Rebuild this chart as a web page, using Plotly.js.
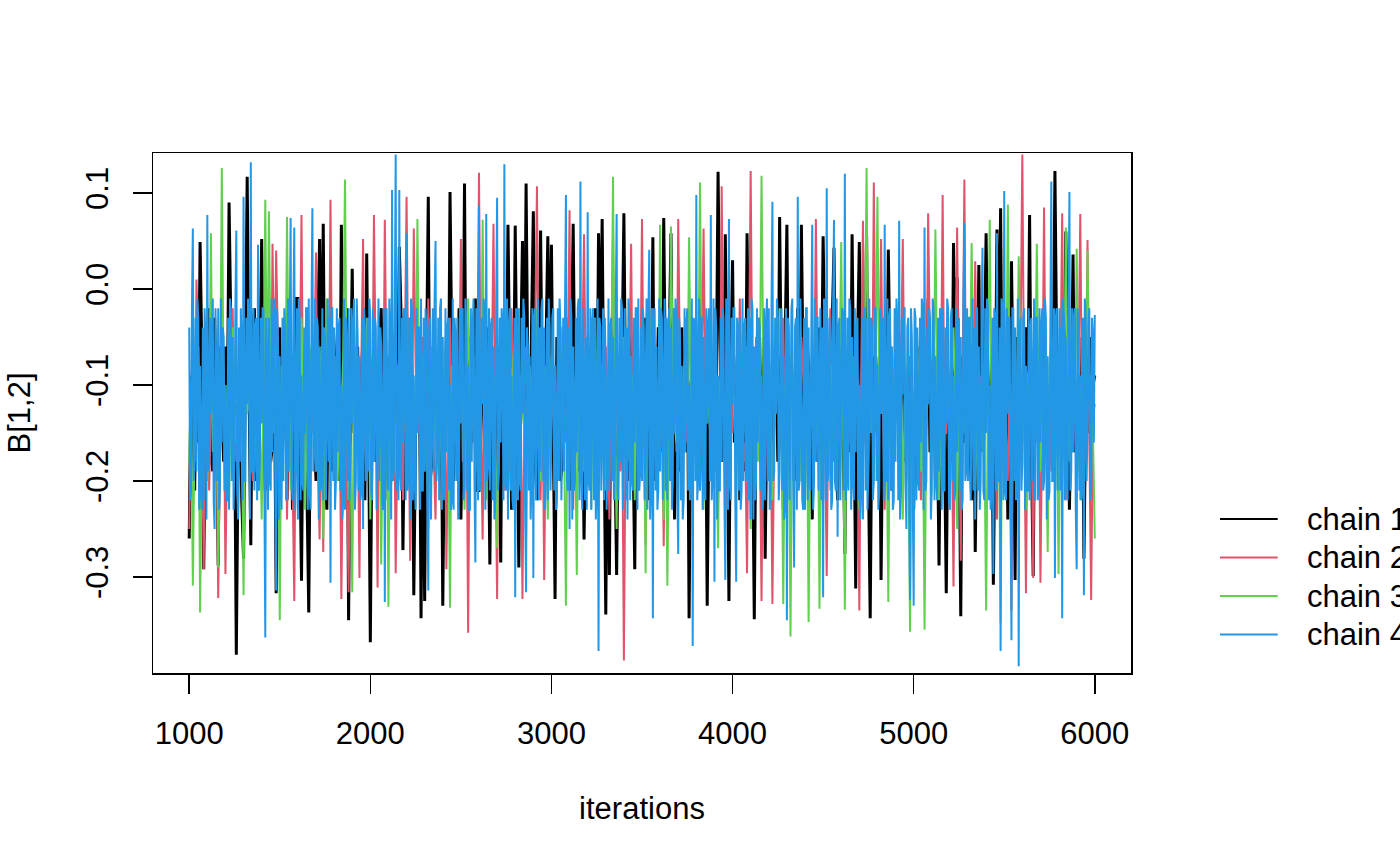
<!DOCTYPE html>
<html>
<head>
<meta charset="utf-8">
<script src="https://cdn.plot.ly/plotly-3.0.1.min.js"></script>
<style>html,body{margin:0;padding:0;background:#fff;}#chart{width:1400px;height:865px;}</style>
</head>
<body>
<div id="chart"></div>
<script>
// Trace of B[1,2], 4 chains, iterations 1000..6000 (thinned)
const START_ITER = 1000;
const THIN = [10, 10, 10, 5];
const chainNames = ["chain 1", "chain 2", "chain 3", "chain 4"];
const chainColors = ["#000000", "#DF536B", "#61D04F", "#2297E6"];
const xTickVals = [1000, 2000, 3000, 4000, 5000, 6000];
const xTickText = ["1000", "2000", "3000", "4000", "5000", "6000"];
const yTickVals = [-0.3, -0.2, -0.1, 0.0, 0.1];
const yTickText = ["-0.3", "-0.2", "-0.1", "0.0", "0.1"];

const chain1 = [
-0.26,-0.09,-0.14,-0.21,-0.05,-0.16,0.049,-0.07,-0.292,-0.13,-0.10,-0.02,-0.17,-0.19,-0.03,-0.11,-0.288,-0.06,-0.12,-0.18,
-0.06,-0.14,0.090,-0.04,-0.19,-0.12,-0.381,-0.17,-0.08,-0.22,-0.281,-0.08,0.117,-0.10,-0.267,-0.05,-0.02,-0.20,-0.15,-0.09,
0.052,-0.11,-0.21,-0.03,-0.09,-0.18,-0.16,-0.08,-0.317,-0.15,-0.04,-0.20,-0.13,-0.06,-0.22,-0.12,-0.07,-0.23,-0.18,-0.01,
-0.01,-0.16,-0.304,-0.07,-0.11,-0.21,-0.337,-0.10,-0.06,-0.14,-0.20,-0.04,0.052,-0.12,0.068,-0.17,-0.23,-0.05,-0.09,-0.19,
-0.16,-0.08,-0.04,-0.20,0.067,-0.13,-0.21,-0.02,-0.345,-0.11,0.021,-0.15,-0.12,-0.06,-0.19,-0.09,-0.05,-0.22,0.037,-0.14,
-0.368,-0.12,-0.08,-0.18,-0.15,-0.05,-0.02,-0.13,-0.22,-0.07,-0.11,-0.21,-0.17,-0.10,-0.06,-0.16,0.044,-0.03,-0.272,-0.11,
-0.10,-0.19,-0.03,-0.09,-0.319,-0.15,-0.13,-0.04,-0.343,-0.12,-0.325,-0.08,0.096,-0.20,-0.18,-0.11,-0.07,-0.17,-0.14,-0.06,
-0.330,-0.13,-0.05,-0.17,0.101,-0.07,-0.20,-0.10,-0.12,-0.02,-0.24,-0.14,0.110,-0.19,-0.09,-0.05,-0.16,-0.12,-0.01,-0.21,
-0.21,-0.08,-0.10,-0.16,-0.04,-0.12,-0.287,-0.06,-0.14,-0.19,-0.06,-0.11,-0.285,-0.03,-0.17,-0.13,0.067,-0.09,-0.23,-0.15,
0.066,-0.12,-0.29,-0.07,0.050,-0.14,0.110,-0.10,-0.19,-0.04,0.081,-0.18,-0.22,-0.09,0.061,-0.13,-0.15,-0.06,0.055,-0.11,
0.046,-0.15,-0.323,-0.05,-0.08,-0.20,-0.18,-0.11,-0.03,-0.16,-0.21,-0.07,0.068,-0.13,-0.12,-0.19,-0.06,-0.10,-0.261,-0.14,
-0.10,-0.06,-0.17,-0.12,-0.02,-0.19,0.058,-0.08,0.073,-0.15,-0.339,-0.10,-0.298,-0.04,-0.09,-0.17,-0.298,-0.11,-0.14,-0.07,
0.079,-0.13,-0.20,-0.09,-0.05,-0.16,-0.292,-0.05,-0.11,-0.18,-0.16,-0.12,-0.03,-0.08,-0.22,-0.14,0.054,-0.20,-0.13,-0.04,
-0.07,-0.17,0.074,-0.11,-0.19,-0.06,0.058,-0.14,-0.24,-0.09,-0.10,-0.19,-0.04,-0.13,-0.17,-0.03,-0.343,-0.10,-0.08,-0.16,
-0.15,-0.09,-0.01,-0.14,-0.21,-0.07,-0.330,-0.12,-0.12,-0.18,-0.06,-0.10,0.122,-0.05,-0.18,-0.15,0.057,-0.11,-0.325,-0.08,
0.030,-0.16,-0.14,-0.06,-0.22,-0.12,-0.07,-0.19,0.058,-0.08,-0.11,-0.15,-0.344,-0.10,-0.03,-0.13,-0.19,-0.05,-0.281,-0.12,
-0.09,-0.14,-0.16,-0.08,-0.05,-0.18,0.075,-0.11,-0.23,-0.06,0.067,-0.16,-0.13,-0.09,-0.20,-0.12,-0.02,-0.17,0.067,-0.10,
-0.17,-0.05,-0.08,-0.15,-0.24,-0.10,-0.11,-0.18,-0.04,-0.13,0.055,-0.07,-0.19,-0.11,-0.14,-0.04,0.043,-0.16,-0.22,-0.09,
-0.06,-0.13,-0.276,-0.08,-0.10,-0.17,0.057,-0.12,-0.312,-0.06,0.049,-0.14,-0.16,-0.10,0.056,-0.19,-0.343,-0.11,-0.07,-0.15,
-0.13,-0.07,-0.303,-0.12,-0.04,-0.16,0.041,-0.09,-0.21,-0.14,-0.11,-0.05,-0.18,-0.11,-0.03,-0.18,-0.15,-0.08,-0.09,-0.13,
-0.23,-0.10,-0.06,-0.15,-0.14,-0.08,-0.19,-0.12,-0.01,-0.17,-0.12,-0.06,-0.20,-0.13,-0.288,-0.09,-0.05,-0.16,-0.317,-0.11,
-0.10,-0.18,0.048,-0.09,0.012,-0.13,-0.341,-0.07,-0.16,-0.11,-0.07,-0.15,-0.22,-0.06,-0.274,-0.12,0.025,-0.17,-0.13,-0.08,
0.058,-0.12,-0.19,-0.06,-0.308,-0.14,0.062,-0.10,0.084,-0.16,-0.11,-0.08,-0.24,-0.13,0.029,-0.11,-0.303,-0.05,-0.08,-0.15,
-0.15,-0.09,-0.04,-0.13,0.077,-0.17,-0.299,-0.08,-0.12,-0.14,-0.18,-0.06,-0.02,-0.12,-0.21,-0.16,-0.09,-0.10,0.123,-0.07,
-0.16,-0.11,-0.06,-0.14,0.060,-0.08,-0.23,-0.12,0.036,-0.17,-0.13,-0.09,-0.19,-0.05,-0.281,-0.13,-0.07,-0.15,-0.05,-0.10,
-0.09];

const chain2 = [
-0.25,-0.12,-0.08,-0.18,0.01,-0.07,-0.17,-0.14,-0.292,-0.10,-0.06,-0.21,-0.13,-0.05,-0.20,-0.11,-0.322,-0.16,-0.04,-0.09,
-0.297,-0.15,-0.11,-0.06,-0.02,-0.13,-0.18,-0.10,-0.09,-0.17,-0.23,-0.08,-0.05,-0.12,-0.14,-0.20,-0.19,-0.04,-0.07,-0.14,
-0.12,-0.08,-0.21,-0.13,-0.03,-0.18,0.047,-0.11,0.040,-0.06,-0.16,-0.15,-0.10,-0.09,-0.24,-0.12,-0.06,-0.19,-0.325,-0.07,
-0.13,-0.10,0.077,-0.16,-0.19,-0.05,-0.08,-0.13,-0.15,-0.09,0.038,-0.17,-0.261,-0.11,-0.274,-0.06,-0.02,-0.14,0.093,-0.12,
-0.11,-0.07,-0.18,-0.12,-0.323,-0.15,-0.05,-0.19,-0.316,-0.10,-0.09,-0.04,-0.14,-0.13,-0.301,-0.08,0.052,-0.16,-0.20,-0.11,
-0.07,-0.14,0.077,-0.09,-0.311,-0.06,-0.12,-0.18,0.072,-0.11,-0.17,-0.13,-0.04,-0.07,-0.296,-0.15,-0.10,-0.12,-0.22,-0.08,
0.096,-0.11,-0.283,-0.16,0.063,-0.08,-0.15,-0.12,-0.08,-0.05,-0.19,-0.14,-0.01,-0.10,-0.13,-0.17,-0.24,-0.09,-0.06,-0.13,
-0.16,-0.09,-0.292,-0.13,-0.03,-0.15,-0.11,-0.06,-0.20,-0.12,0.052,-0.18,-0.14,-0.08,-0.358,-0.11,-0.07,-0.14,-0.18,-0.10,
0.121,-0.13,-0.261,-0.07,-0.09,-0.17,-0.15,-0.10,0.068,-0.15,-0.323,-0.08,-0.05,-0.12,-0.21,-0.06,-0.12,-0.16,-0.02,-0.11,
-0.17,-0.08,-0.10,-0.14,-0.323,-0.11,-0.06,-0.16,-0.19,-0.09,-0.13,-0.05,0.107,-0.13,-0.22,-0.10,-0.303,-0.12,-0.04,-0.17,
-0.14,-0.10,-0.08,-0.15,-0.20,-0.06,-0.11,-0.12,-0.16,-0.09,0.082,-0.18,-0.23,-0.11,-0.07,-0.14,-0.13,-0.07,0.057,-0.12,
-0.18,-0.11,-0.03,-0.14,-0.21,-0.08,-0.09,-0.16,-0.15,-0.10,-0.06,-0.13,-0.24,-0.07,0.060,-0.15,-0.12,-0.09,-0.19,-0.12,
-0.387,-0.13,-0.05,-0.09,0.047,-0.16,-0.17,-0.08,-0.10,-0.12,0.073,-0.14,-0.267,-0.06,-0.14,-0.11,-0.02,-0.15,-0.20,-0.10,
-0.08,-0.12,-0.268,-0.07,-0.13,-0.15,-0.18,-0.10,-0.06,-0.17,0.073,-0.09,-0.22,-0.13,-0.11,-0.16,-0.04,-0.08,-0.16,-0.11,
-0.09,-0.15,-0.21,-0.10,0.063,-0.12,-0.14,-0.06,-0.07,-0.14,-0.19,-0.09,-0.12,-0.17,0.107,-0.11,-0.23,-0.08,-0.05,-0.13,
-0.15,-0.07,-0.10,-0.13,-0.01,-0.11,-0.18,-0.16,-0.296,-0.09,0.123,-0.12,-0.13,-0.05,-0.08,-0.14,-0.325,-0.10,-0.20,-0.08,
-0.06,-0.12,-0.328,-0.15,-0.11,-0.08,-0.17,-0.11,-0.03,-0.16,-0.22,-0.07,-0.14,-0.13,-0.09,-0.10,-0.19,-0.14,-0.05,-0.09,
-0.12,-0.16,-0.24,-0.09,-0.07,-0.13,0.073,-0.11,-0.16,-0.06,-0.10,-0.15,-0.299,-0.10,-0.02,-0.12,-0.18,-0.08,-0.13,-0.14,
-0.08,-0.13,-0.21,-0.10,-0.04,-0.16,-0.15,-0.07,-0.11,-0.12,-0.335,-0.09,0.071,-0.14,-0.19,-0.11,-0.06,-0.15,0.111,-0.10,
-0.14,-0.10,0.052,-0.12,-0.23,-0.07,-0.09,-0.15,-0.17,-0.11,-0.03,-0.14,-0.12,-0.08,0.052,-0.13,-0.20,-0.09,-0.07,-0.16,
-0.16,-0.09,-0.10,-0.14,-0.22,-0.11,-0.05,-0.13,0.079,-0.07,-0.13,-0.16,-0.18,-0.10,-0.08,-0.12,0.098,-0.15,-0.15,-0.08,
-0.11,-0.14,-0.310,-0.08,0.064,-0.12,-0.283,-0.10,0.114,-0.15,-0.19,-0.07,-0.06,-0.13,0.029,-0.11,-0.21,-0.09,-0.12,-0.16,
-0.04,-0.11,-0.17,-0.13,-0.09,-0.16,-0.24,-0.08,-0.14,-0.10,-0.02,-0.15,-0.20,-0.09,-0.335,-0.12,-0.07,-0.14,-0.13,-0.06,
0.140,-0.12,-0.317,-0.09,-0.10,-0.14,-0.301,-0.11,-0.16,-0.07,-0.306,-0.13,0.085,-0.15,-0.11,-0.10,-0.19,-0.08,-0.05,-0.12,
-0.14,-0.10,0.079,-0.13,-0.22,-0.07,-0.08,-0.15,-0.17,-0.11,-0.12,-0.09,0.078,-0.14,-0.21,-0.12,0.051,-0.16,-0.324,-0.13,
-0.12];

const chain3 = [
-0.18,-0.10,-0.309,-0.14,-0.07,-0.06,-0.337,-0.16,-0.12,-0.09,-0.20,-0.12,0.058,-0.17,-0.15,-0.08,-0.29,-0.13,0.126,-0.11,
-0.10,-0.15,-0.22,-0.08,-0.04,-0.12,-0.16,-0.10,-0.09,-0.14,-0.319,-0.07,-0.13,-0.11,-0.02,-0.16,-0.19,-0.09,-0.07,-0.13,
-0.24,-0.11,0.093,-0.13,0.081,-0.09,-0.14,-0.15,-0.06,-0.12,-0.345,-0.08,-0.11,-0.14,0.075,-0.10,-0.21,-0.07,-0.08,-0.16,
-0.17,-0.09,-0.03,-0.12,-0.23,-0.14,-0.12,-0.08,-0.05,-0.11,-0.19,-0.13,-0.10,-0.06,-0.26,-0.15,-0.01,-0.10,-0.15,-0.12,
-0.08,-0.14,-0.20,-0.10,-0.13,-0.07,0.114,-0.12,-0.22,-0.16,-0.316,-0.09,-0.06,-0.13,-0.17,-0.11,-0.11,-0.15,-0.03,-0.08,
-0.24,-0.12,-0.09,-0.15,-0.14,-0.10,-0.287,-0.13,-0.05,-0.08,-0.331,-0.11,-0.12,-0.14,-0.19,-0.09,-0.07,-0.12,-0.16,-0.10,
-0.02,-0.13,-0.21,-0.09,-0.10,-0.15,0.073,-0.11,-0.18,-0.07,-0.13,-0.14,-0.25,-0.10,-0.06,-0.12,-0.15,-0.08,-0.09,-0.16,
-0.20,-0.10,-0.04,-0.13,-0.332,-0.08,-0.11,-0.15,-0.17,-0.12,-0.08,-0.09,-0.23,-0.14,-0.01,-0.11,-0.14,-0.07,-0.19,-0.12,
-0.06,-0.14,0.072,-0.11,-0.22,-0.09,-0.12,-0.13,-0.09,-0.16,-0.27,-0.08,-0.03,-0.12,-0.16,-0.10,-0.11,-0.15,-0.21,-0.07,
-0.05,-0.12,-0.18,-0.09,-0.13,-0.14,-0.26,-0.10,-0.08,-0.13,-0.15,-0.07,-0.02,-0.15,-0.20,-0.11,-0.10,-0.08,-0.24,-0.13,
-0.07,-0.11,-0.17,-0.14,-0.12,-0.08,-0.04,-0.16,-0.330,-0.10,-0.14,-0.12,-0.09,-0.13,-0.298,-0.09,-0.06,-0.15,-0.19,-0.11,
-0.11,-0.13,-0.23,-0.08,-0.03,-0.12,-0.16,-0.10,-0.08,-0.14,-0.21,-0.09,-0.13,-0.11,0.117,-0.15,-0.25,-0.07,-0.10,-0.12,
-0.05,-0.10,-0.18,-0.14,-0.12,-0.09,-0.22,-0.12,-0.07,-0.15,-0.15,-0.11,-0.296,-0.08,-0.02,-0.13,-0.19,-0.10,-0.11,-0.14,
0.067,-0.12,-0.24,-0.10,-0.309,-0.13,0.065,-0.08,-0.14,-0.16,-0.09,-0.11,-0.20,-0.09,-0.06,-0.14,0.054,-0.12,-0.17,-0.07,
-0.12,-0.14,0.111,-0.09,-0.23,-0.11,-0.04,-0.13,-0.16,-0.08,-0.10,-0.15,-0.27,-0.10,-0.08,-0.12,-0.13,-0.09,-0.19,-0.11,
-0.03,-0.13,-0.21,-0.08,-0.11,-0.12,-0.15,-0.10,-0.06,-0.14,-0.25,-0.07,-0.09,-0.13,-0.18,-0.11,0.118,-0.09,-0.14,-0.12,
-0.07,-0.11,-0.22,-0.14,-0.12,-0.09,-0.02,-0.13,-0.328,-0.10,-0.17,-0.12,-0.362,-0.08,-0.10,-0.15,-0.05,-0.11,-0.20,-0.13,
-0.13,-0.10,-0.347,-0.12,-0.08,-0.15,-0.16,-0.09,-0.333,-0.13,-0.11,-0.11,-0.04,-0.14,-0.21,-0.08,-0.14,-0.12,-0.09,-0.10,
0.049,-0.13,-0.334,-0.09,-0.12,-0.11,-0.18,-0.14,-0.06,-0.10,-0.23,-0.12,-0.10,-0.08,0.126,-0.13,-0.15,-0.11,-0.20,-0.09,
0.096,-0.12,-0.13,-0.10,-0.07,-0.14,-0.326,-0.09,-0.11,-0.13,-0.03,-0.11,-0.17,-0.08,-0.24,-0.12,-0.09,-0.15,-0.357,-0.10,
-0.14,-0.09,-0.05,-0.12,-0.19,-0.11,-0.355,-0.14,-0.10,-0.08,-0.16,-0.13,0.062,-0.10,-0.22,-0.15,-0.08,-0.11,-0.13,-0.12,
-0.18,-0.10,-0.04,-0.13,-0.25,-0.09,-0.11,-0.12,-0.15,-0.14,-0.07,-0.11,0.048,-0.08,-0.21,-0.13,-0.12,-0.10,-0.17,-0.14,
-0.335,-0.11,0.072,-0.13,-0.09,-0.10,-0.14,-0.12,-0.348,-0.09,-0.06,-0.14,0.088,-0.11,-0.20,-0.08,-0.11,-0.13,0.034,-0.10,
-0.16,-0.12,-0.23,-0.09,-0.08,-0.14,-0.13,-0.11,0.047,-0.13,-0.19,-0.10,-0.10,-0.12,-0.274,-0.08,-0.05,-0.14,-0.15,-0.11,
-0.297,-0.10,-0.12,-0.13,0.064,-0.11,-0.18,-0.09,-0.07,-0.14,0.042,-0.12,-0.22,-0.10,-0.14,-0.13,0.040,-0.11,-0.09,-0.15,
-0.26];

const chain4 = [
-0.04,-0.22,-0.21,-0.02,0.063,-0.20,-0.15,-0.03,-0.19,-0.01,-0.03,-0.23,-0.08,-0.21,-0.23,-0.04,-0.22,-0.02,-0.06,-0.24,
0.077,-0.19,-0.18,-0.03,-0.13,-0.05,-0.01,-0.22,-0.25,-0.02,-0.10,-0.20,-0.02,-0.23,-0.20,-0.01,-0.16,-0.04,-0.05,-0.21,
-0.10,-0.22,-0.22,-0.03,-0.23,-0.01,-0.02,-0.20,-0.05,-0.23,-0.17,-0.02,0.061,-0.21,-0.24,-0.04,-0.18,-0.02,-0.07,-0.22,
0.096,-0.20,-0.20,-0.03,-0.12,-0.01,-0.04,-0.24,0.132,-0.19,-0.19,-0.02,-0.21,-0.04,-0.03,-0.22,0.046,-0.21,-0.18,-0.03,
-0.14,-0.02,-0.02,-0.21,-0.363,-0.03,-0.08,-0.23,-0.03,-0.20,-0.21,-0.01,-0.17,-0.04,-0.01,-0.22,-0.314,-0.02,-0.06,-0.24,
-0.07,-0.21,-0.23,-0.03,-0.20,-0.02,-0.04,-0.22,-0.11,-0.01,-0.19,-0.04,0.074,-0.20,-0.22,-0.03,0.064,-0.23,-0.16,-0.02,
-0.24,-0.01,-0.03,-0.22,-0.09,-0.20,-0.21,-0.04,-0.15,-0.02,-0.02,-0.23,-0.01,-0.21,-0.23,-0.03,0.084,-0.19,-0.17,-0.01,
-0.19,-0.03,-0.04,-0.24,-0.06,-0.21,-0.20,-0.02,-0.22,-0.04,-0.05,-0.22,-0.12,-0.01,-0.18,-0.03,-0.306,-0.02,-0.02,-0.20,
-0.04,-0.23,-0.20,-0.02,-0.17,-0.04,-0.03,-0.21,-0.10,-0.24,-0.22,-0.01,-0.23,-0.03,-0.06,-0.20,-0.02,-0.22,-0.18,-0.02,
-0.14,-0.04,-0.01,-0.23,-0.20,-0.01,-0.05,-0.21,-0.07,-0.22,-0.21,-0.03,-0.25,-0.02,-0.04,-0.20,-0.11,-0.03,-0.19,-0.01,
-0.03,-0.21,-0.22,-0.02,-0.18,-0.03,-0.04,-0.23,-0.13,-0.01,-0.20,-0.04,-0.06,-0.22,-0.23,-0.02,-0.326,-0.03,-0.02,-0.20,
-0.21,-0.01,-0.05,-0.24,0.103,-0.20,-0.19,-0.02,0.140,-0.21,-0.08,-0.22,0.103,-0.19,-0.21,-0.03,-0.16,-0.02,-0.03,-0.22,
0.058,-0.21,-0.20,-0.03,-0.24,-0.01,-0.02,-0.22,-0.09,-0.20,-0.23,-0.02,-0.15,-0.04,-0.04,-0.23,-0.01,-0.21,-0.21,-0.03,
-0.19,-0.02,-0.05,-0.22,-0.314,-0.04,-0.03,-0.24,-0.12,-0.02,-0.19,-0.01,0.050,-0.20,-0.17,-0.03,-0.22,-0.02,-0.01,-0.23,
-0.05,-0.22,-0.21,-0.02,-0.17,-0.04,-0.03,-0.21,-0.10,-0.23,-0.22,-0.01,-0.23,-0.03,-0.05,-0.20,-0.03,-0.24,-0.19,-0.02,
-0.14,-0.03,-0.02,-0.22,-0.20,-0.01,-0.04,-0.21,-0.08,-0.23,-0.23,-0.02,-0.18,-0.04,-0.01,-0.20,-0.285,-0.02,-0.06,-0.22,
0.087,-0.21,-0.20,-0.03,-0.12,-0.01,-0.02,-0.23,0.078,-0.20,-0.18,-0.02,-0.21,-0.04,-0.03,-0.22,-0.06,-0.24,-0.22,-0.01,
0.095,-0.21,-0.19,-0.03,-0.16,-0.02,-0.04,-0.22,0.130,-0.20,-0.21,-0.01,-0.24,-0.04,-0.02,-0.21,-0.09,-0.22,-0.23,-0.03,
-0.321,-0.02,-0.05,-0.22,-0.02,-0.20,-0.21,-0.03,-0.13,-0.01,-0.03,-0.23,-0.316,-0.04,-0.06,-0.21,-0.07,-0.24,-0.20,-0.02,
-0.301,-0.03,-0.02,-0.22,-0.11,-0.01,-0.22,-0.04,-0.19,-0.02,-0.01,-0.20,-0.04,-0.23,-0.18,-0.03,-0.22,-0.01,-0.04,-0.21,
-0.15,-0.03,-0.02,-0.21,-0.08,-0.23,-0.22,-0.02,-0.20,-0.01,-0.04,-0.22,-0.12,-0.03,-0.19,-0.02,0.098,-0.20,-0.21,-0.04,
-0.25,-0.01,-0.03,-0.24,-0.06,-0.21,-0.20,-0.03,-0.17,-0.02,-0.01,-0.22,0.112,-0.19,-0.23,-0.02,-0.10,-0.22,-0.05,-0.23,
0.080,-0.20,-0.21,-0.02,-0.23,-0.04,-0.02,-0.22,-0.03,-0.24,-0.20,-0.01,-0.377,-0.03,-0.04,-0.21,-0.14,-0.02,-0.22,-0.03,
-0.09,-0.23,-0.18,-0.01,-0.21,-0.04,-0.03,-0.20,-0.05,-0.22,-0.19,-0.02,0.078,-0.21,-0.22,-0.03,-0.18,-0.01,-0.02,-0.23,
-0.12,-0.02,-0.22,-0.04,-0.24,-0.01,-0.03,-0.22,-0.07,-0.20,-0.21,-0.03,-0.16,-0.02,-0.02,-0.23,-0.01,-0.21,-0.19,-0.04,
-0.20,-0.02,-0.04,-0.22,-0.11,-0.01,-0.23,-0.03,0.041,-0.24,-0.20,-0.02,-0.343,-0.04,-0.02,-0.21,-0.06,-0.23,-0.21,-0.01,
-0.19,-0.02,-0.03,-0.22,-0.13,-0.01,-0.21,-0.03,-0.22,-0.04,-0.02,-0.20,-0.04,-0.23,-0.20,-0.02,-0.15,-0.01,-0.03,-0.21,
-0.276,-0.03,-0.05,-0.22,-0.08,-0.24,-0.22,-0.02,-0.17,-0.04,-0.02,-0.21,-0.10,-0.22,-0.21,-0.01,-0.372,-0.03,-0.04,-0.20,
0.098,-0.22,-0.20,-0.01,-0.21,-0.03,-0.03,-0.23,-0.05,-0.21,-0.22,-0.02,-0.14,-0.04,-0.02,-0.20,0.077,-0.22,-0.19,-0.01,
-0.305,-0.02,-0.04,-0.24,-0.09,-0.21,-0.21,-0.03,-0.18,-0.02,-0.03,-0.22,-0.303,-0.01,-0.05,-0.23,0.073,-0.20,-0.22,-0.03,
-0.12,-0.02,-0.02,-0.22,-0.305,-0.03,-0.04,-0.21,-0.03,-0.23,-0.21,-0.01,-0.20,-0.04,-0.03,-0.20,-0.11,-0.02,-0.22,-0.03,
-0.24,-0.01,-0.02,-0.24,-0.06,-0.22,-0.20,-0.02,-0.16,-0.03,-0.04,-0.21,-0.09,-0.23,-0.21,-0.02,-0.22,-0.04,-0.01,-0.20,
-0.02,-0.23,-0.21,-0.02,0.091,-0.20,-0.19,-0.03,-0.13,-0.01,-0.03,-0.22,-0.19,-0.04,-0.02,-0.21,-0.07,-0.24,-0.22,-0.02,
-0.345,-0.03,-0.04,-0.22,-0.15,-0.02,-0.01,-0.20,-0.290,-0.04,-0.03,-0.23,0.096,-0.21,-0.20,-0.01,-0.10,-0.22,-0.23,-0.03,
-0.23,-0.02,-0.02,-0.22,-0.04,-0.20,-0.21,-0.04,0.067,-0.23,-0.20,-0.01,-0.18,-0.03,-0.03,-0.21,-0.12,-0.02,-0.22,-0.04,
-0.321,-0.01,-0.02,-0.22,0.105,-0.20,-0.19,-0.03,-0.08,-0.23,-0.22,-0.02,0.072,-0.20,-0.21,-0.01,-0.258,-0.04,-0.03,-0.22,
-0.14,-0.02,-0.03,-0.21,0.120,-0.22,-0.20,-0.03,-0.21,-0.01,-0.02,-0.23,-0.05,-0.20,-0.22,-0.02,-0.17,-0.04,-0.03,-0.22,
-0.10,-0.24,-0.21,-0.03,-0.24,-0.02,-0.02,-0.21,-0.03,-0.23,-0.19,-0.01,-0.15,-0.03,-0.04,-0.22,-0.20,-0.02,-0.02,-0.20,
-0.08,-0.23,-0.21,-0.02,-0.13,-0.04,-0.03,-0.22,0.067,-0.20,-0.20,-0.01,-0.22,-0.03,-0.02,-0.21,-0.06,-0.23,-0.22,-0.02,
-0.18,-0.01,-0.04,-0.22,0.071,-0.24,-0.21,-0.03,-0.11,-0.02,-0.02,-0.20,-0.25,-0.04,-0.03,-0.21,-0.324,-0.02,-0.05,-0.22,
-0.330,-0.02,-0.03,-0.22,-0.04,-0.20,-0.21,-0.03,-0.16,-0.01,-0.02,-0.23,0.064,-0.21,-0.20,-0.04,-0.12,-0.02,-0.03,-0.24,
-0.21,-0.01,-0.02,-0.22,-0.07,-0.20,-0.22,-0.03,-0.19,-0.02,-0.03,-0.23,-0.02,-0.21,-0.21,-0.04,-0.14,-0.01,-0.02,-0.22,
-0.23,-0.03,-0.02,-0.20,-0.09,-0.22,-0.21,-0.02,-0.17,-0.04,-0.03,-0.21,-0.05,-0.23,-0.22,-0.01,0.069,-0.20,-0.19,-0.02,
-0.20,-0.03,-0.03,-0.22,-0.11,-0.01,-0.21,-0.04,-0.24,-0.02,-0.02,-0.21,-0.06,-0.23,-0.20,-0.03,0.043,-0.21,-0.22,-0.02,
-0.15,-0.01,-0.02,-0.22,-0.10,-0.23,-0.21,-0.03,-0.297,-0.02,-0.03,-0.21,0.058,-0.20,-0.20,-0.04,-0.377,-0.01,-0.02,-0.22,
0.102,-0.21,-0.22,-0.02,-0.13,-0.03,-0.03,-0.23,-0.366,-0.02,-0.02,-0.20,-0.04,-0.22,-0.21,-0.01,-0.393,-0.04,-0.03,-0.21,
-0.18,-0.03,-0.02,-0.23,-0.08,-0.21,-0.21,-0.02,-0.22,-0.04,-0.03,-0.20,-0.12,-0.01,-0.22,-0.03,-0.03,-0.22,-0.20,-0.02,
-0.16,-0.04,-0.02,-0.21,-0.20,-0.01,-0.03,-0.24,-0.07,-0.22,-0.21,-0.03,0.112,-0.20,-0.20,-0.02,-0.301,-0.03,-0.02,-0.21,
-0.11,-0.02,-0.21,-0.04,-0.343,-0.01,-0.03,-0.22,-0.05,-0.20,-0.22,-0.03,0.101,-0.21,-0.19,-0.02,-0.17,-0.03,-0.02,-0.23,
-0.292,-0.02,-0.04,-0.21,-0.09,-0.22,-0.21,-0.03,-0.319,-0.01,-0.03,-0.20,-0.14,-0.04,-0.02,-0.22,-0.21,-0.03,-0.05,-0.16,
-0.027];

const chains = [chain1, chain2, chain3, chain4];
const lineWidths = [3, 2, 2, 2];

const FONT = "Liberation Sans, Arial, Helvetica, sans-serif";
const FS = 31;

const traces = chains.map((vals, k) => ({
  type: "scatter",
  mode: "lines",
  x: vals.map((_, i) => START_ITER + THIN[k] * i),
  y: vals,
  name: chainNames[k],
  line: {color: chainColors[k], width: lineWidths[k], simplify: false},
  showlegend: false,
  hoverinfo: "skip"
}));

// Manual R-style legend to the right of the plot
const legendY = [0.296, 0.222, 0.148, 0.074];
const shapes = [];
const annotations = [];
chainNames.forEach((nm, k) => {
  shapes.push({type: "line", xref: "paper", yref: "paper",
    x0: 1.091, x1: 1.150, y0: legendY[k], y1: legendY[k],
    line: {color: chainColors[k], width: 2}});
  annotations.push({xref: "paper", yref: "paper", x: 1.178, y: legendY[k],
    xanchor: "left", yanchor: "middle", text: nm, showarrow: false,
    font: {family: FONT, size: FS, color: "#000"}});
});

const layout = {
  width: 1400, height: 865,
  margin: {l: 153, r: 269, t: 153, b: 192},
  paper_bgcolor: "#fff", plot_bgcolor: "#fff",
  font: {family: FONT, size: FS, color: "#000"},
  showlegend: false,
  xaxis: {
    range: [800, 6200], tickvals: xTickVals, ticktext: xTickText,
    ticks: "outside", ticklen: 19, tickwidth: 1.5, tickcolor: "#000",
    ticklabelstandoff: 13,
    showline: true, mirror: true, linecolor: "#000", linewidth: 1.5,
    showgrid: false, zeroline: false,
    tickfont: {family: FONT, size: FS},
    title: {text: "iterations", font: {family: FONT, size: FS}, standoff: 47}
  },
  yaxis: {
    range: [-0.4, 0.14167], tickvals: yTickVals, ticktext: yTickText,
    tickangle: -90,
    ticks: "outside", ticklen: 19, tickwidth: 1.5, tickcolor: "#000",
    ticklabelstandoff: 12,
    showline: true, mirror: true, linecolor: "#000", linewidth: 1.5,
    showgrid: false, zeroline: false,
    tickfont: {family: FONT, size: FS},
    title: {text: "B[1,2]", font: {family: FONT, size: FS}, standoff: 40}
  },
  shapes: shapes,
  annotations: annotations
};

Plotly.newPlot("chart", traces, layout, {staticPlot: true, displayModeBar: false});
</script>
</body>
</html>
